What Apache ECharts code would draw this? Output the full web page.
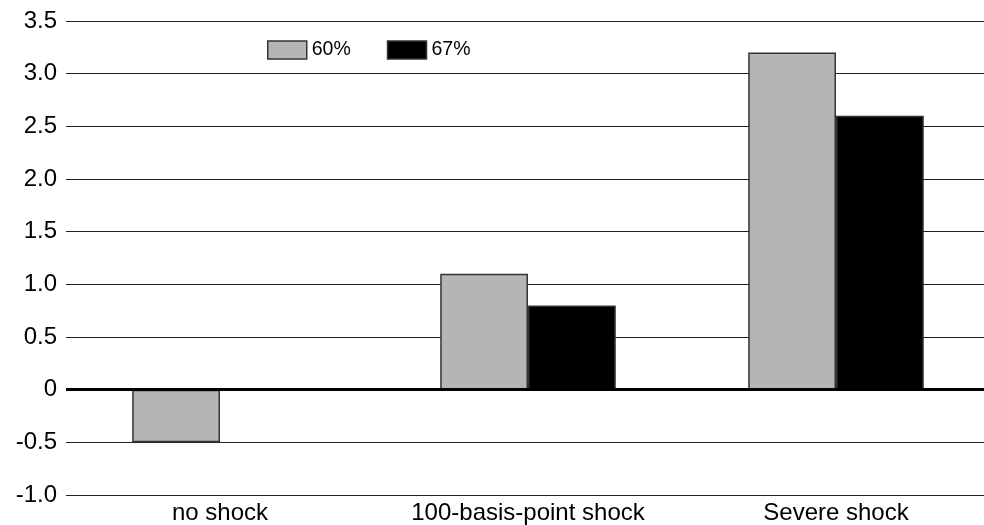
<!DOCTYPE html>
<html><head><meta charset="utf-8">
<script src="https://cdn.jsdelivr.net/npm/echarts@6/dist/echarts.min.js"></script>
<style>html,body{margin:0;padding:0;background:#fff}#c{width:984px;height:525px}</style>
</head><body><div id="c"></div>
<script>
const categories = ['no shock', '100-basis-point shock', 'Severe shock'];
const series60 = [-0.5, 1.1, 3.2];
const series67 = [0, 0.8, 2.6];
const seriesNames = ['60%', '67%'];

const FONT = '"Liberation Sans", Arial, Helvetica, sans-serif';
const chart = echarts.init(document.getElementById('c'), null, {renderer: 'canvas'});
chart.setOption({
  animation: false,
  backgroundColor: '#fff',
  textStyle: {fontFamily: FONT},
  grid: {left: 66, width: 924, top: 21, bottom: 30, outerBoundsMode: 'none', containLabel: false},
  legend: {
    left: 267, top: 40, padding: 0,
    icon: 'rect',
    itemWidth: 39, itemHeight: 18, itemGap: 36,
    textStyle: {fontFamily: FONT, fontSize: 19.5, color: '#000'},
    data: [
      {name: seriesNames[0], itemStyle: {color: '#b5b5b5', borderColor: '#333', borderWidth: 1.5}},
      {name: seriesNames[1], itemStyle: {color: '#000', borderColor: '#333', borderWidth: 1.5}}
    ]
  },
  xAxis: {
    type: 'category', data: categories,
    axisLine: {show: false, onZero: false},
    axisTick: {show: false},
    axisLabel: {fontFamily: FONT, fontSize: 24, color: '#000', margin: 6}
  },
  yAxis: {
    type: 'value', min: -1, max: 3.5, interval: 0.5,
    axisLine: {show: false}, axisTick: {show: false},
    axisLabel: {fontFamily: FONT, fontSize: 24, color: '#000', margin: 9,
      formatter: v => (v === 0 ? '0' : v.toFixed(1))},
    splitLine: {show: true, lineStyle: {color: '#222', width: 1.2}}
  },
  series: [
    {name: seriesNames[0], type: 'bar', data: series60, barGap: '0%', barCategoryGap: '43%',
      itemStyle: {color: '#b5b5b5', borderColor: '#333', borderWidth: 1.5},
      markLine: {silent: true, symbol: 'none', label: {show: false},
        lineStyle: {color: '#000', width: 3, type: 'solid'}, data: [{yAxis: 0}]}},
    {name: seriesNames[1], type: 'bar', data: series67,
      itemStyle: {color: '#000', borderColor: '#333', borderWidth: 1.5}}
  ]
});
</script></body></html>
